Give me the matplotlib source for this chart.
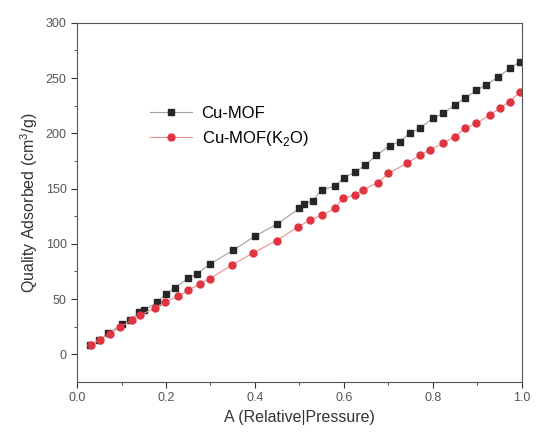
import numpy as np
import matplotlib.pyplot as plt

plt.rcParams['font.family'] = ['Liberation Sans', 'DejaVu Sans']
plt.rcParams['mathtext.fontset'] = 'custom'
plt.rcParams['mathtext.rm'] = 'Liberation Sans'

# Cu-MOF (black squares)
x_cu = [0.03, 0.05, 0.07, 0.10, 0.12, 0.14, 0.15, 0.18, 0.20, 0.22, 0.25, 0.27, 0.30,
        0.35, 0.40, 0.45, 0.50, 0.51, 0.53, 0.55, 0.58, 0.60, 0.625, 0.647, 0.673,
        0.703, 0.726, 0.748, 0.771, 0.80, 0.823, 0.849, 0.872, 0.898, 0.92, 0.947,
        0.973, 0.996]
y_cu = [8, 13, 19, 27, 31, 38, 40, 47, 55, 60, 69, 73, 82,
        94, 107, 118, 132, 136, 139, 149, 152, 160, 165, 171, 180,
        189, 192.5, 200, 204.6, 213.6, 218, 225.7, 231.8, 239, 244, 251,
        259, 265]

# Cu-MOF(K2O) (red circles)
x_k = [0.031, 0.052, 0.074, 0.097, 0.123, 0.142, 0.175, 0.198, 0.228, 0.25, 0.276,
       0.299, 0.348, 0.396, 0.449, 0.497, 0.524, 0.55, 0.58, 0.598, 0.625, 0.643,
       0.677, 0.70, 0.741, 0.771, 0.793, 0.823, 0.849, 0.872, 0.898, 0.928, 0.951,
       0.973, 0.996]
y_k = [8.2, 13.3, 18.7, 24.8, 30.8, 35.4, 42, 47.4, 52.6, 58, 64,
       68.6, 80.7, 91.8, 103, 115.4, 121.5, 126, 132, 141.5, 144, 149,
       155.5, 163.8, 172.8, 180, 185, 191, 197, 204.6, 209, 216.6, 222.7,
       228.7, 237.8]

fig = plt.figure(figsize=(5.39, 4.40), dpi=100)
ax = fig.add_axes([0.143, 0.132, 0.825, 0.816])

ax.plot(x_cu, y_cu, color='#a0a0a0', lw=0.8, marker='s', ms=4.5,
        mfc='#262626', mec='#262626', label='Cu-MOF')
ax.plot(x_k, y_k, color='#ec9090', lw=0.8, marker='o', ms=5,
        mfc='#e03440', mec='#e03440', label='Cu-MOF(K$_2$O)')

ax.set_xlim(0, 1.0)
ax.set_ylim(-25, 300)
ax.set_xticks(np.arange(0, 1.01, 0.2))
ax.set_xticks(np.arange(0.1, 1.0, 0.2), minor=True)
ax.set_yticks(np.arange(0, 301, 50))
ax.set_yticks(np.arange(25, 300, 50), minor=True)
ax.tick_params(which='both', direction='out', labelsize=9, colors='#333333',
               labelcolor='#555555')
ax.tick_params(which='major', length=4)
ax.tick_params(which='minor', length=2.5)
for s in ax.spines.values():
    s.set_color('#555555')

ax.set_xlabel('A (Relative|Pressure)', fontsize=11.5, color='#333333')
ax.set_ylabel('Quality Adsorbed (cm$^3$/g)', fontsize=11.5, color='#333333')

ax.legend(loc='upper left', bbox_to_anchor=(0.13, 0.81), frameon=False,
          fontsize=12, handlelength=2.5, labelspacing=0.45, handletextpad=0.6)

fig.savefig('out.png', dpi=100)
